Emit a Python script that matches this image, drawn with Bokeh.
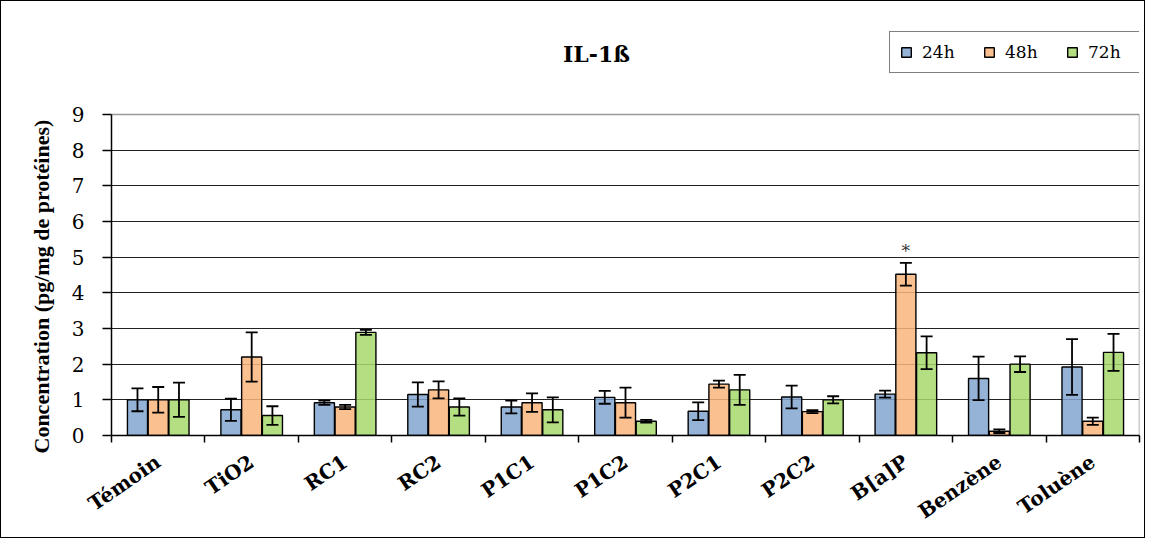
from bokeh.plotting import figure
from bokeh.models import (Range1d, FixedTicker, Whisker, TeeHead, ColumnDataSource,
                          Legend, LegendItem, Label, Title)
from bokeh.embed import file_html
from bokeh.resources import INLINE

categories = ["Témoin", "TiO2", "RC1", "RC2", "P1C1", "P1C2", "P2C1", "P2C2",
              "B[a]P", "Benzène", "Toluène"]
series = ["24h", "48h", "72h"]
mean_24h = [1.00, 0.72, 0.92, 1.15, 0.80, 1.07, 0.68, 1.08, 1.16, 1.60, 1.92]
err_24h = [0.32, 0.31, 0.06, 0.34, 0.18, 0.18, 0.25, 0.32, 0.10, 0.61, 0.78]
mean_48h = [1.00, 2.20, 0.80, 1.28, 0.92, 0.92, 1.44, 0.67, 4.52, 0.12, 0.40]
err_48h = [0.36, 0.69, 0.06, 0.24, 0.26, 0.42, 0.10, 0.04, 0.32, 0.05, 0.10]
mean_72h = [1.00, 0.56, 2.89, 0.80, 0.72, 0.40, 1.28, 1.00, 2.32, 2.00, 2.33]
err_72h = [0.48, 0.26, 0.07, 0.24, 0.35, 0.04, 0.42, 0.10, 0.46, 0.22, 0.52]
y_ticks = [0, 1, 2, 3, 4, 5, 6, 7, 8, 9]
y_label = "Concentration (pg/mg de protéines)"
significant = ["B[a]P"]  # marked with * on the 48h bar

colors = ["#82A6D0", "#F9B57C", "#A6D86B"]
offsets = [-0.222, 0.0, 0.222]
bar_w = 0.215

n = len(categories)
y_max = y_ticks[-1]
# frame reaches the top of the canvas so that title and legend can live inside it;
# value 9 sits at 113 px from the top, 0 at 434 px
y_top = y_max * 434 / (434 - 113)

p = figure(width=1145, height=538, output_backend="svg", toolbar_location=None,
           x_range=Range1d(0, n), y_range=Range1d(0, y_top),
           min_border_left=110, min_border_right=7, min_border_top=0,
           min_border_bottom=104)
p.styles = {"border": "1.5px solid black"}
p.outline_line_color = None

centers = [i + 0.5 for i in range(n)]

# right and top edges of the plot area (grey)
p.segment(x0=[n, 0], x1=[n, n], y0=[0, y_max], y1=[y_max, y_max],
          line_color="#999999", line_width=1.5)

renderers = []
for means, errs, off, col in zip([mean_24h, mean_48h, mean_72h],
                                 [err_24h, err_48h, err_72h], offsets, colors):
    src = ColumnDataSource(dict(
        x=[c + off for c in centers], top=means,
        upper=[m + e for m, e in zip(means, errs)],
        lower=[m - e for m, e in zip(means, errs)]))
    r = p.vbar(x="x", top="top", width=bar_w, bottom=0, source=src,
               fill_color=col, fill_alpha=0.85, line_color="black", line_width=1.4)
    renderers.append(r)
    w = Whisker(source=src, base="x", upper="upper", lower="lower",
                line_color="black", line_width=1.8, level="overlay",
                upper_head=TeeHead(size=12, line_color="black", line_width=1.8),
                lower_head=TeeHead(size=12, line_color="black", line_width=1.8))
    p.add_layout(w)

# significance marker
for cat in significant:
    i = categories.index(cat)
    p.add_layout(Label(x=centers[i] + offsets[1], y=mean_48h[i] + err_48h[i], text="*",
                       y_offset=2, text_align="center", text_baseline="bottom",
                       text_font="DejaVu Serif", text_font_size="17px",
                       text_color="#333333"))

# axes
xa = p.xaxis[0]
xa.ticker = FixedTicker(ticks=centers, minor_ticks=list(range(n + 1)))
xa.major_label_overrides = {c: lab for c, lab in zip(centers, categories)}
xa.major_tick_out = 0
xa.major_tick_in = 0
xa.minor_tick_out = 7
xa.minor_tick_in = 0
xa.minor_tick_line_color = "black"
xa.minor_tick_line_width = 1.5
xa.major_label_orientation = 0.6
xa.major_label_standoff = 17
xa.major_label_text_font = "DejaVu Serif"
xa.major_label_text_font_style = "bold"
xa.major_label_text_font_size = "20px"
xa.major_label_text_color = "black"
xa.axis_line_color = "black"
xa.axis_line_width = 1.5

ya = p.yaxis[0]
ya.ticker = FixedTicker(ticks=y_ticks)
ya.bounds = (0, y_max)
ya.minor_tick_line_color = None
ya.major_tick_out = 9
ya.major_tick_in = 0
ya.major_tick_line_color = "black"
ya.major_tick_line_width = 1.5
ya.major_label_standoff = 18
ya.major_label_text_font = "DejaVu Serif"
ya.major_label_text_font_size = "20px"
ya.major_label_text_color = "black"
ya.axis_line_color = "black"
ya.axis_line_width = 1.5

# y-axis title placed as a side title so it can be aligned with the 0..9 part of the axis
p.add_layout(Title(text=y_label, align="left", offset=-18, vertical_align="middle",
                   standoff=28, text_font="Liberation Serif", text_font_style="bold",
                   text_font_size="22px", text_color="black"), "left")

p.xgrid.visible = False
p.ygrid.ticker = FixedTicker(ticks=y_ticks[:-1])
p.ygrid.grid_line_color = "#222222"
p.ygrid.grid_line_width = 1.2

# title
p.add_layout(Label(x=485, y=382, x_units="screen", y_units="screen", text="IL-1ß",
                   text_align="center", text_baseline="middle",
                   text_font="DejaVu Serif", text_font_style="bold",
                   text_font_size="22px", text_color="black"))

legend = Legend(items=[LegendItem(label=s, renderers=[r]) for s, r in zip(series, renderers)],
                orientation="horizontal", location=(778, 362), margin=0, padding=10,
                spacing=16, label_standoff=10, label_width=45, glyph_width=12,
                glyph_height=12, border_line_color="black", border_line_width=1.2,
                background_fill_color="white", background_fill_alpha=1,
                label_text_font="DejaVu Serif", label_text_font_size="17px",
                label_text_color="black")
p.add_layout(legend)

open("out.html", "w").write(file_html(p, INLINE))
